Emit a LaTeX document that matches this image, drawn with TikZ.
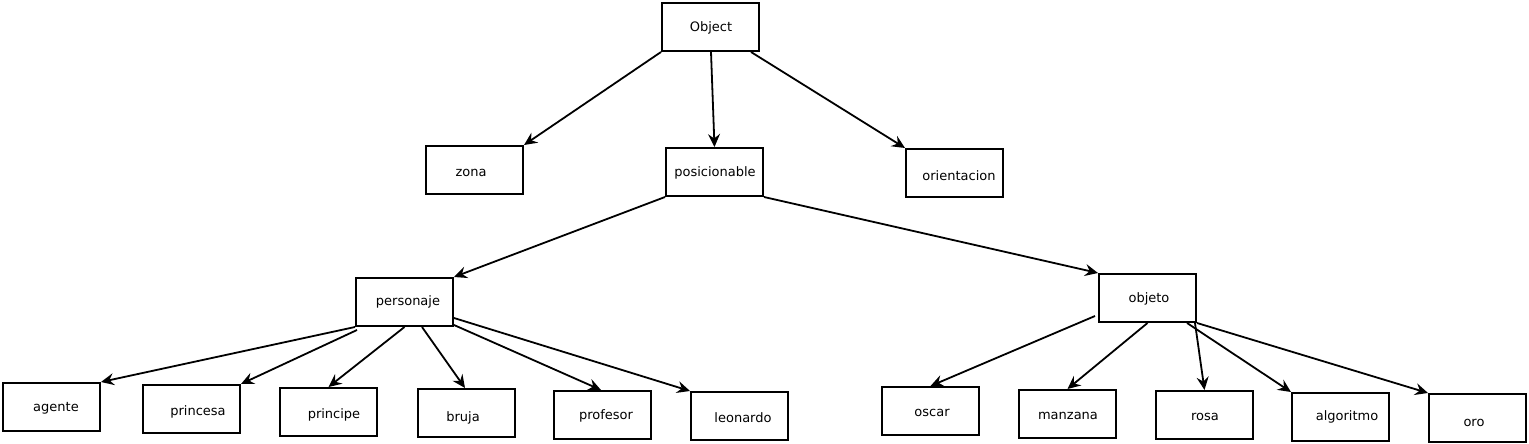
\documentclass[tikz,border=0pt]{standalone}
\usepackage{fontspec}
\setmainfont{DejaVu Sans}
\usetikzlibrary{arrows.meta}
\begin{document}
\begin{tikzpicture}[x=1pt,y=-1pt,
  box/.style={draw,line width=2pt,minimum width=97pt,minimum height=48pt,inner sep=0pt},
  txt/.style={font=\fontsize{13pt}{15pt}\selectfont,inner sep=0pt,text height=10pt,text depth=3pt,yshift=-1.5pt},
  arr/.style={line width=1.8pt,-{Stealth[length=13pt,width=12pt,inset=4.5pt]}}]
\useasboundingbox (0,0) rectangle (1529,444);
% boxes
\node[box] (obj) at (710.5,27) {};
\node[box] (zona) at (474.5,170) {};
\node[box] (pos) at (714.5,172) {};
\node[box] (ori) at (954.5,173) {};
\node[box] (pers) at (404.5,302) {};
\node[box] (objeto) at (1147.5,298) {};
\node[box] (agente) at (51.5,407) {};
\node[box] (princesa) at (191.5,409) {};
\node[box] (principe) at (328.5,412) {};
\node[box] (bruja) at (466.5,413) {};
\node[box] (profesor) at (602.5,415) {};
\node[box] (leonardo) at (739.5,416) {};
\node[box] (oscar) at (930.5,411) {};
\node[box] (manzana) at (1067.5,414) {};
\node[box] (rosa) at (1204.5,415) {};
\node[box] (algoritmo) at (1340.5,417) {};
\node[box] (oro) at (1477.5,418) {};
% texts
\node[txt] (t-obj) at (711,27) {Object};
\node[txt] (t-zona) at (471,171) {zona};
\node[txt] (t-pos) at (715,171) {posicionable};
\node[txt] (t-ori) at (959,175) {orientacion};
\node[txt] (t-pers) at (408,300) {personaje};
\node[txt] (t-objeto) at (1149,297) {objeto};
\node[txt] (t-agente) at (56,406) {agente};
\node[txt] (t-princesa) at (198,410) {princesa};
\node[txt] (t-principe) at (334,413) {principe};
\node[txt] (t-bruja) at (463,416) {bruja};
\node[txt] (t-profesor) at (606,414) {profesor};
\node[txt] (t-leonardo) at (743,417) {leonardo};
\node[txt] (t-oscar) at (932,411) {oscar};
\node[txt] (t-manzana) at (1068,414) {manzana};
\node[txt] (t-rosa) at (1205,415) {rosa};
\node[txt] (t-algoritmo) at (1347,415) {algoritmo};
\node[txt] (t-oro) at (1474,421) {oro};
% connectors
\draw[arr] (obj.south west) -- (zona.north east);
\draw[arr] ([xshift=0.5pt]obj.south) -- (pos.north);
\draw[arr] ([xshift=-9pt]obj.south east) -- (ori.north west);
\draw[arr] (pos.south west) -- (pers.north east);
\draw[arr] (pos.south east) -- (objeto.north west);
\draw[arr] (pers.south west) -- (agente.north east);
\draw[arr] ([shift={(2,3)}]pers.south west) -- (princesa.north east);
\draw[arr] (pers.south) -- (principe.north);
\draw[arr] ([xshift=17.5pt]pers.south) -- ([xshift=-1.5pt]bruja.north);
\draw[arr] ([yshift=2pt]pers.south east) -- ([xshift=-1.5pt]profesor.north);
\draw[arr] ([yshift=-16pt]pers.east) -- (leonardo.north west);
\draw[arr] ([shift={(-3,18)}]objeto.west) -- (oscar.north);
\draw[arr] (objeto.south) -- (manzana.north);
\draw[arr] ([xshift=-2pt]objeto.south east) -- (rosa.north);
\draw[arr] ([xshift=-10pt]objeto.south east) -- (algoritmo.north west);
\draw[arr] (objeto.south east) -- (oro.north west);
\end{tikzpicture}
\end{document}
